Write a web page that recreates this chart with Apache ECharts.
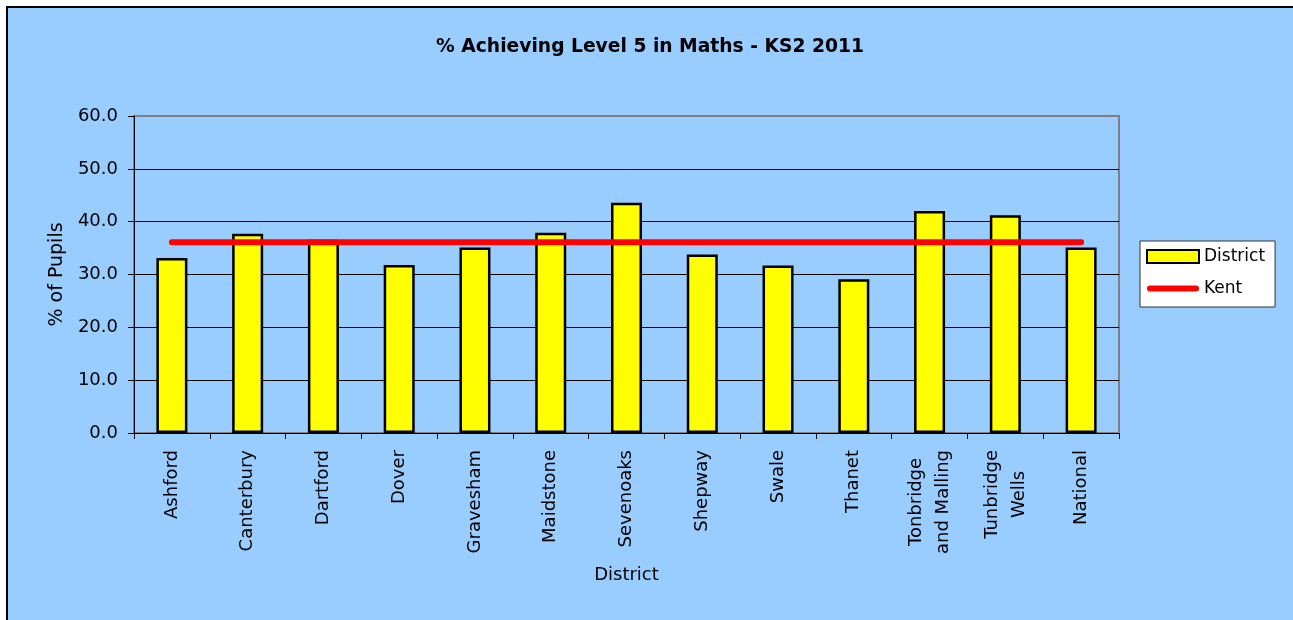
<!DOCTYPE html>
<html>
<head>
<meta charset="utf-8">
<script src="https://cdn.jsdelivr.net/npm/echarts@6/dist/echarts.min.js"></script>
<style>
  html, body { margin: 0; padding: 0; background: #fff; overflow: hidden; }
  #chart { width: 1293px; height: 620px; }
</style>
</head>
<body>
<div id="chart"></div>
<script>
var districts = ['Ashford', 'Canterbury', 'Dartford', 'Dover', 'Gravesham', 'Maidstone', 'Sevenoaks',
    'Shepway', 'Swale', 'Thanet', 'Tonbridge\nand Malling', 'Tunbridge\nWells', 'National'];
var districtValues = [33.1, 37.7, 36.6, 31.8, 35.1, 37.9, 43.6, 33.8, 31.7, 29.1, 42.0, 41.2, 35.1];
var kentValues = [36.1, 36.1, 36.1, 36.1, 36.1, 36.1, 36.1, 36.1, 36.1, 36.1, 36.1, 36.1, 36.1];
var yTicks = ['0.0', '10.0', '20.0', '30.0', '40.0', '50.0', '60.0'];

var font = 'DejaVu Sans';
var myChart = echarts.init(document.getElementById('chart'));

var option = {
    backgroundColor: '#fff',
    animation: false,
    graphic: [{
        type: 'rect',
        z: -100,
        shape: {x: 7, y: 7, width: 1500, height: 700},
        style: {fill: '#99CCFF', stroke: '#000', lineWidth: 2}
    }],
    title: {
        text: '% Achieving Level 5 in Maths - KS2 2011',
        left: 650,
        top: 38,
        textAlign: 'center',
        padding: 0,
        textStyle: {fontFamily: font, fontSize: 18.7, fontWeight: 'bold', color: '#000'}
    },
    legend: {
        orient: 'vertical',
        left: 1140,
        top: 241,
        backgroundColor: '#fff',
        borderColor: '#333',
        borderWidth: 1,
        padding: [7, 10, 10, 6],
        itemWidth: 52,
        itemHeight: 13,
        itemGap: 15,
        textStyle: {fontFamily: font, fontSize: 17, color: '#000'},
        data: [
            {name: 'District', icon: 'rect'},
            {name: 'Kent', icon: 'path://M3,0H49A3,3 0 0 1 49,6H3A3,3 0 0 1 3,0Z'}
        ]
    },
    grid: {
        left: 134,
        right: 174,
        top: 116,
        bottom: 187,
        show: true,
        borderColor: '#808080',
        borderWidth: 2,
        backgroundColor: 'transparent'
    },
    xAxis: {
        type: 'category',
        data: districts,
        name: 'District',
        nameLocation: 'middle',
        nameGap: 133,
        nameTextStyle: {fontFamily: font, fontSize: 18, color: '#000'},
        axisLine: {lineStyle: {color: '#000', width: 1}},
        axisTick: {show: true, length: 6, lineStyle: {color: '#000'}},
        axisLabel: {
            rotate: 90,
            margin: 17,
            interval: 0,
            fontFamily: font,
            fontSize: 18,
            color: '#000',
            formatter: function (v) {
                return v.split('\n').map(function (s) { return '{a|' + s + '}'; }).join('\n');
            },
            rich: {a: {fontFamily: font, fontSize: 18, color: '#000', align: 'center', lineHeight: 27}}
        }
    },
    yAxis: {
        type: 'value',
        min: 0,
        max: 60,
        interval: 10,
        name: '% of Pupils',
        nameLocation: 'middle',
        nameGap: 64,
        nameTextStyle: {fontFamily: font, fontSize: 19, color: '#000'},
        axisLine: {show: true, lineStyle: {color: '#000', width: 1}},
        axisTick: {show: true, length: 6, lineStyle: {color: '#000'}},
        axisLabel: {
            margin: 16,
            fontFamily: font,
            fontSize: 18,
            color: '#000',
            formatter: function (v) { return yTicks[Math.round(v / 10)]; }
        },
        splitLine: {
            show: true,
            lineStyle: {color: ['#000', '#000', '#000', '#000', '#000', '#000', '#808080'], width: 1}
        }
    },
    series: [
        {
            name: 'District',
            type: 'bar',
            data: districtValues,
            barWidth: 31,
            itemStyle: {color: '#FFFF00', borderColor: '#000', borderWidth: 2.5}
        },
        {
            name: 'Kent',
            type: 'line',
            data: kentValues,
            symbol: 'none',
            lineStyle: {color: '#FF0000', width: 6, cap: 'round'},
            itemStyle: {color: '#FF0000'},
            z: 3
        }
    ]
};

myChart.setOption(option);
</script>
</body>
</html>
